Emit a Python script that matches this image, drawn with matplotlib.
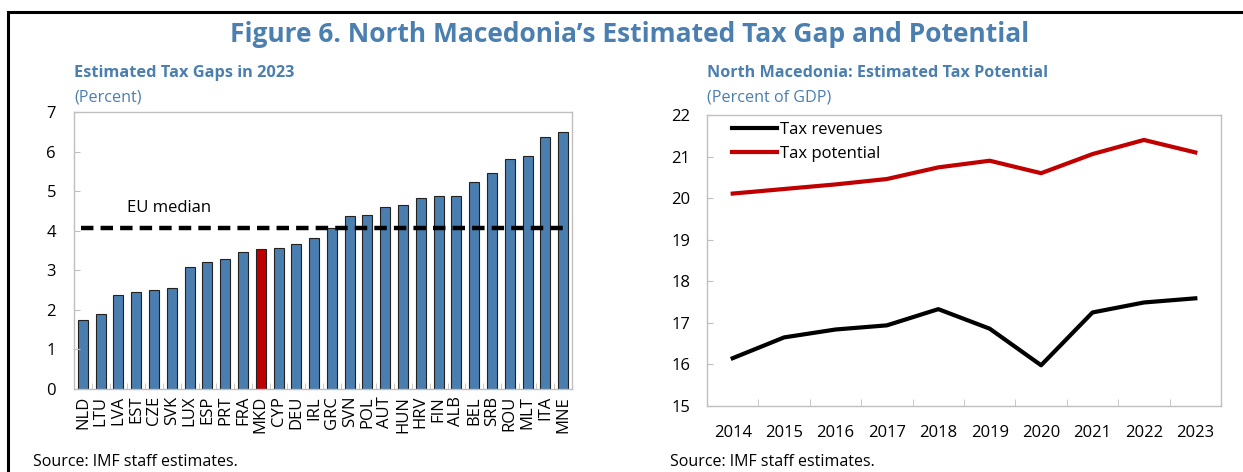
import matplotlib

matplotlib.use("Agg")
import matplotlib.pyplot as plt
from matplotlib.patches import Rectangle

plt.rcParams["font.family"] = ["Open Sans", "DejaVu Sans"]

# Left panel: estimated tax gaps in 2023 (percent)
countries = ["NLD", "LTU", "LVA", "EST", "CZE", "SVK", "LUX", "ESP", "PRT", "FRA",
             "MKD", "CYP", "DEU", "IRL", "GRC", "SVN", "POL", "AUT", "HUN", "HRV",
             "FIN", "ALB", "BEL", "SRB", "ROU", "MLT", "ITA", "MNE"]
tax_gap = [1.74, 1.89, 2.37, 2.46, 2.49, 2.54, 3.08, 3.21, 3.29, 3.47,
           3.53, 3.57, 3.66, 3.82, 4.07, 4.36, 4.39, 4.61, 4.65, 4.83,
           4.87, 4.87, 5.24, 5.46, 5.81, 5.89, 6.36, 6.49]
eu_median = 4.07
highlight = "MKD"

# Right panel: tax revenues vs. tax potential (percent of GDP)
years = ["2014", "2015", "2016", "2017", "2018", "2019", "2020", "2021", "2022", "2023"]
tax_revenues = [16.15, 16.65, 16.84, 16.94, 17.33, 16.86, 15.98, 17.25, 17.49, 17.59]
tax_potential = [20.11, 20.22, 20.33, 20.46, 20.74, 20.90, 20.60, 21.06, 21.40, 21.10]

BLUE = "#4A7EAF"
TITLE_BLUE = "#4A7FB0"
RED = "#C00000"
SPINE = "#BFBFBF"

W, H = 1243, 472
fig = plt.figure(figsize=(W / 100, H / 100), dpi=100)


def px(x, y):
    return x / W, 1 - y / H


def style_axes(ax):
    for s in ax.spines.values():
        s.set_color(SPINE)
        s.set_linewidth(1.0)
    ax.tick_params(axis="both", which="both", direction="in", color=SPINE,
                   labelsize=12, pad=7)


# frame around the whole figure (left and top edges visible)
fig.patches.append(Rectangle(px(8, 480), 1.5, (480 - 12) / H, transform=fig.transFigure,
                             fill=False, edgecolor="black", linewidth=2.2))

fig.text(*px(630, 35), "Figure 6. North Macedonia\u2019s Estimated Tax Gap and Potential",
         ha="center", va="center", fontsize=19, fontweight="bold", color=TITLE_BLUE)

# ---- left panel
ax1 = fig.add_axes([74 / W, 1 - 389 / H, 498 / W, 277 / H])
x = range(len(countries))
colors = [RED if c == highlight else BLUE for c in countries]
ax1.bar(x, tax_gap, width=0.56, color=colors, edgecolor="#222222", linewidth=0.8)
ax1.hlines(eu_median, -0.1, len(countries) - 0.9, colors="black", linewidth=3.2,
           linestyles=(0, (2.8, 1.6)))
ax1.text(2.5, eu_median + 0.5, "EU median", fontsize=12, va="center")
ax1.set_xlim(-0.5, len(countries) - 0.5)
ax1.set_ylim(0, 7)
ax1.set_xticks(list(x))
ax1.set_xticklabels(countries, rotation=90)
ax1.set_xticks([i + 0.5 for i in range(len(countries) - 1)], minor=True)
style_axes(ax1)
ax1.tick_params(axis="x", which="major", length=0, pad=5)
ax1.tick_params(axis="x", which="minor", length=4)
ax1.tick_params(axis="y", length=4, pad=13)
ax1.set_yticks(range(0, 8))

fig.text(*px(74, 73), "Estimated Tax Gaps in 2023", fontsize=11.8, fontweight="bold",
         color=TITLE_BLUE, va="center")
fig.text(*px(74, 97), "(Percent)", fontsize=11.6, color=TITLE_BLUE, va="center")
fig.text(*px(33, 462), "Source: IMF staff estimates.", fontsize=11.5, va="center")

# ---- right panel
AX2_W = 514
ax2 = fig.add_axes([707 / W, 1 - 406 / H, AX2_W / W, 291 / H])
xi = range(len(years))
ax2.plot(xi, tax_revenues, color="black", linewidth=3, label="Tax revenues")
ax2.plot(xi, tax_potential, color=RED, linewidth=3, label="Tax potential")
ax2.set_xlim(-0.5, len(years) - 0.5)
ax2.set_ylim(15, 22)
ax2.set_yticks(range(15, 23))
ax2.set_xticks(list(xi))
ax2.set_xticklabels(years)
ax2.set_xticks([i + 0.5 for i in range(len(years) - 1)], minor=True)
style_axes(ax2)
ax2.tick_params(axis="x", which="major", length=0, pad=14)
ax2.tick_params(axis="x", which="minor", length=5)
ax2.tick_params(axis="y", length=4, pad=12)
ax2.legend(loc="upper left", bbox_to_anchor=(25 / AX2_W, 1 - 7 / 291), frameon=False,
           fontsize=12, handlelength=2.7, handletextpad=0.2, labelspacing=0.47,
           borderaxespad=0, borderpad=0)

fig.text(*px(707, 73), "North Macedonia: Estimated Tax Potential", fontsize=11.6,
         fontweight="bold", color=TITLE_BLUE, va="center")
fig.text(*px(707, 97), "(Percent of GDP)", fontsize=11.6, color=TITLE_BLUE, va="center")
fig.text(*px(670, 462), "Source: IMF staff estimates.", fontsize=11.5, va="center")

fig.savefig("out.png", dpi=100)
